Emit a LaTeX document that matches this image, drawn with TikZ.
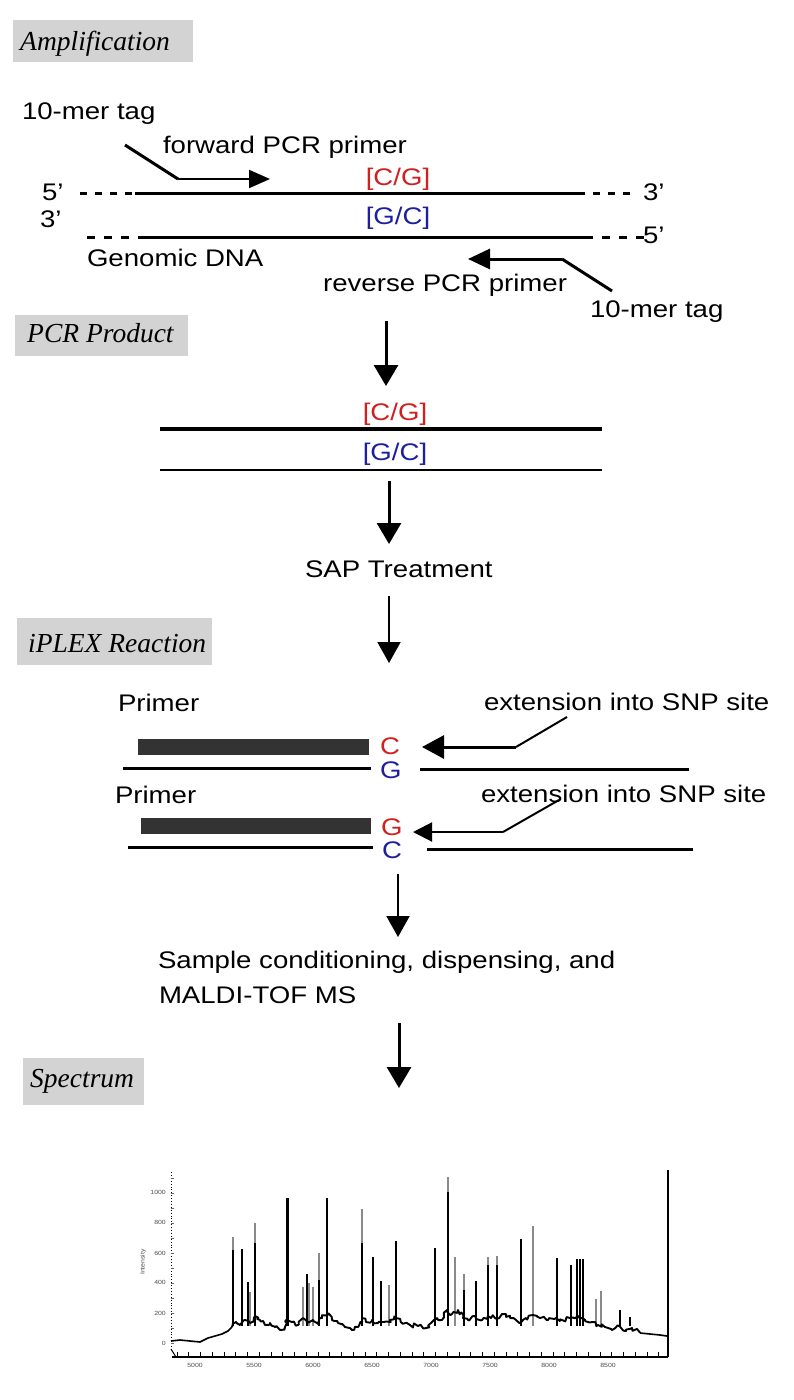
\documentclass[tikz,border=0pt]{standalone}
\usepackage{fontspec}
\setmainfont{Liberation Sans}[FakeStretch=1.15]
\newfontfamily\titlefont{Liberation Serif}
\usetikzlibrary{arrows.meta,decorations.pathmorphing}
\definecolor{snpred}{HTML}{D02020}
\definecolor{snpblue}{HTML}{1E1EA0}
\definecolor{boxgray}{HTML}{D3D3D3}
\definecolor{bargray}{HTML}{333333}
\definecolor{peakgray}{HTML}{8A8A8A}
\tikzset{
  lbl/.style={font=\fontsize{24}{28}\selectfont, inner sep=0pt, outer sep=0pt},
  tiny/.style={font=\fontsize{6}{7}\selectfont, inner sep=0pt, text=black!70},
  ttl/.style={font=\titlefont\itshape\fontsize{27.5}{30}\selectfont, inner sep=0pt},
  tbox/.style={fill=boxgray, draw=none, inner sep=0pt, outer sep=0pt},
  strand/.style={line width=3pt},
  thinstrand/.style={line width=2.2pt},
  dashA/.style={line width=3pt, dash pattern=on 7pt off 8pt},
  dashB/.style={line width=3pt, dash pattern=on 8pt off 9pt},
  flowthick/.style={line width=3pt, -{Triangle[length=21pt,width=24pt]}},
  flowthin/.style={line width=2pt, -{Triangle[length=21pt,width=23pt]}},
  pk/.style={line width=2pt, black},
  pg/.style={line width=1.2pt, peakgray},
  noisy/.style={line width=1.9pt, line join=round,
    decorate, decoration={random steps, segment length=2.5pt, amplitude=2.2pt}},
}
\begin{document}
\begin{tikzpicture}[x=1pt,y=-1pt]
\pgfmathsetseed{4242}
\useasboundingbox (0,0) rectangle (794,1400);

% ---------------- titles
\node[tbox, anchor=north west, minimum width=180pt, minimum height=42pt] (ampbox) at (13,20) {};
\node[ttl, anchor=base west] (amp) at (20,50) {Amplification};
\node[tbox, anchor=north west, minimum width=173pt, minimum height=41pt] (pcrbox) at (15,315) {};
\node[ttl, anchor=base west] (pcr) at (27,342) {PCR Product};
\node[tbox, anchor=north west, minimum width=195pt, minimum height=47pt] (iplexbox) at (17,618) {};
\node[ttl, anchor=base west] (iplex) at (28,652) {iPLEX Reaction};
\node[tbox, anchor=north west, minimum width=121pt, minimum height=47pt] (specbox) at (23,1058) {};
\node[ttl, anchor=base west] (spec) at (30,1087) {Spectrum};

% ---------------- amplification
\node[lbl, anchor=base west] (tagA) at (22,119) {10-mer tag};
\node[lbl, anchor=base west] (fwd) at (163,153) {forward PCR primer};
\coordinate (fwA) at (125,145);
\coordinate (fwB) at (178,179);
\coordinate (fwT) at (270,179);
\draw[line width=3pt] (fwA) -- (fwB);
\draw[line width=2pt, -{Triangle[length=21pt,width=18pt]}] (fwB) -- (fwT);

\node[lbl, anchor=base west] (p5a) at (42,200) {5’};
\node[lbl, anchor=base west] (p3a) at (643,200) {3’};
\node[lbl, anchor=base west] (p3b) at (40,227) {3’};
\node[lbl, anchor=base west] (p5b) at (643,243) {5’};

\coordinate (ta1) at (80,193);  \coordinate (ta2) at (135,193);
\coordinate (ta3) at (578,193); \coordinate (ta4) at (637,193);
\draw[dashA] (ta1) -- (ta2);
\draw[strand] (ta2) -- (ta3);
\draw[dashA] (ta3) -- (ta4);
\coordinate (ba1) at (87,237);  \coordinate (ba2) at (141,237);
\coordinate (ba3) at (585,237); \coordinate (ba4) at (645,237);
\draw[dashB] (ba1) -- (ba2);
\draw[strand] (ba2) -- (ba3);
\draw[dashB] (ba3) -- (ba4);

\node[lbl, anchor=base, text=snpred] (cgA) at (398,185) {[C/G]};
\node[lbl, anchor=base, text=snpblue] (gcA) at (398,224) {[G/C]};
\node[lbl, anchor=base west] (genomic) at (87,266) {Genomic DNA};

\coordinate (rvA) at (612,291);
\coordinate (rvB) at (562,259);
\coordinate (rvT) at (468,259);
\draw[line width=3pt] (rvA) -- (rvB);
\draw[line width=3pt, -{Triangle[length=22pt,width=20pt]}] (rvB) -- (rvT);
\node[lbl, anchor=base east] (rev) at (567,291) {reverse PCR primer};
\node[lbl, anchor=base west] (tagB) at (590,317) {10-mer tag};

% ---------------- PCR product
\coordinate (a1s) at (386,321); \coordinate (a1e) at (386,386);
\draw[flowthick] (a1s) -- (a1e);
\node[lbl, anchor=base, text=snpred] (cgB) at (395,420) {[C/G]};
\coordinate (pl1a) at (160,429); \coordinate (pl1b) at (602,429);
\draw[line width=3.4pt] (pl1a) -- (pl1b);
\node[lbl, anchor=base, text=snpblue] (gcB) at (395,460) {[G/C]};
\coordinate (pl2a) at (160,470); \coordinate (pl2b) at (602,470);
\draw[thinstrand] (pl2a) -- (pl2b);

\coordinate (a2s) at (389,481); \coordinate (a2e) at (389,544);
\draw[flowthick] (a2s) -- (a2e);
\node[lbl, anchor=base west] (sap) at (305,577) {SAP Treatment};
\coordinate (a3s) at (389,596); \coordinate (a3e) at (389,663);
\draw[flowthin] (a3s) -- (a3e);

% ---------------- iPLEX
\node[lbl, anchor=base west] (prim1) at (118,711) {Primer};
\node[lbl, anchor=base west] (ext1) at (484,710) {extension into SNP site};
\fill[bargray] (138,739) rectangle (369,755);
\node[lbl, anchor=base west, text=snpred] (c1) at (380,754) {C};
\node[lbl, anchor=base west, text=snpblue] (g1) at (380,778) {G};
\coordinate (la1) at (123,768); \coordinate (la2) at (371,768);
\coordinate (la3) at (420,769); \coordinate (la4) at (689,769);
\draw[strand] (la1) -- (la2);
\draw[strand] (la3) -- (la4);
\coordinate (e1a) at (567,717); \coordinate (e1b) at (516,747); \coordinate (e1t) at (422,747);
\draw[line width=2pt] (e1a) -- (e1b);
\draw[line width=3pt, -{Triangle[length=22pt,width=23pt]}] (e1b) -- (e1t);

\node[lbl, anchor=base west] (prim2) at (115,803) {Primer};
\node[lbl, anchor=base west] (ext2) at (481,802) {extension into SNP site};
\fill[bargray] (141,818) rectangle (371,834);
\node[lbl, anchor=base west, text=snpred] (g2) at (381,835) {G};
\node[lbl, anchor=base west, text=snpblue] (c2) at (382,858) {C};
\coordinate (lb1) at (128,847); \coordinate (lb2) at (373,847);
\coordinate (lb3) at (427,849); \coordinate (lb4) at (693,849);
\draw[strand] (lb1) -- (lb2);
\draw[strand] (lb3) -- (lb4);
\coordinate (e2a) at (559,800); \coordinate (e2b) at (503,832); \coordinate (e2t) at (413,832);
\draw[line width=2pt] (e2a) -- (e2b);
\draw[line width=2pt, -{Triangle[length=19pt,width=19pt]}] (e2b) -- (e2t);

% ---------------- MALDI
\coordinate (a4s) at (398,874); \coordinate (a4e) at (398,937);
\draw[flowthin] (a4s) -- (a4e);
\node[lbl, anchor=base west] (samp) at (158,968) {Sample conditioning, dispensing, and};
\node[lbl, anchor=base west] (maldi) at (159,1003) {MALDI-TOF MS};
\coordinate (a5s) at (399,1023); \coordinate (a5e) at (399,1088);
\draw[flowthick] (a5s) -- (a5e);

% ---------------- spectrum plot
% y axis
\draw[line width=0.9pt, dotted] (171,1172) -- (171,1350);
\foreach \yy in {1178,1193,...,1343} \draw[line width=0.6pt, black!60] (171,\yy) -- (174,\yy);
\foreach \yy/\tt in {1343/0,1313/200,1282/400,1253/600,1222/800,1192/1000}
  \node[tiny, anchor=east] at (166,\yy) {\tt};
\node[tiny, rotate=90] (ylab) at (143,1262) {Intensity};
% x axis
\draw[line width=2pt] (172,1357) -- (668,1357);
\draw[line width=2pt] (668,1170) -- (668,1357);
\draw[line width=1pt] (171,1349) -- (176,1357);
\foreach \i in {0,...,41} \draw[line width=0.9pt] (177+\i*11.75,1357) -- ++(0,-5);
\foreach \xx/\tt in {195/5000,254/5500,313/6000,372/6500,431/7000,490/7500,549/8000,608/8500}
  \node[tiny, anchor=north] at (\xx,1363) {\tt};

% peaks
\foreach \xx/\tp/\st in {
  233/1237/pg, 242/1249/pk, 248/1282/pk, 250/1292/pg, 255/1223/pg,
  287/1198/pk, 303/1287/pg, 307/1274/pk, 309/1283/pg, 313/1287/pg,
  319/1253/pg, 327/1198/pk, 362/1209/pg, 373/1257/pk, 381/1281/pk,
  389/1285/pg, 396/1241/pk, 435/1248/pk, 448/1177/pg, 455/1257/pg,
  464/1274/pg, 476/1281/pk, 488/1257/pg, 497/1256/pg, 521/1239/pk,
  533/1226/pg, 557/1258/pk, 571/1265/pk, 577/1259/pk, 580/1259/pk,
  583/1259/pk, 596/1299/pg, 601/1291/pg, 620/1310/pk, 630/1317/pk}
  \draw[\st] (\xx,1326) -- (\xx,\tp);
\foreach \xx/\tp in {233/1250, 255/1243, 319/1280, 362/1243, 448/1192,
  464/1290, 488/1265, 497/1265}
  \draw[pk] (\xx,1326) -- (\xx,\tp);
\draw[line width=3pt] (287,1326) -- (287,1198);
\draw[line width=2.6pt] (448,1326) -- (448,1192);
% baseline (left smooth part, then noisy part)
\draw[line width=1.6pt, line join=round] (171,1341) -- (180,1340) -- (190,1341) -- (200,1342)
  -- (208,1338) -- (215,1336) -- (222,1334) -- (228,1331) -- (232,1327);
\draw[noisy] (232,1327) -- (236,1322)
  -- (240,1325) -- (245,1320) -- (250,1323) -- (255,1316) -- (260,1320) -- (265,1325)
  -- (270,1323) -- (275,1327) -- (280,1330) -- (285,1327) -- (288,1318) -- (292,1322)
  -- (298,1325) -- (303,1318) -- (308,1322) -- (313,1320) -- (318,1324) -- (322,1318)
  -- (327,1314) -- (332,1320) -- (338,1323) -- (345,1327) -- (352,1330) -- (358,1327)
  -- (362,1318) -- (366,1322) -- (372,1320) -- (378,1323) -- (384,1322) -- (390,1320)
  -- (396,1318) -- (402,1323) -- (410,1325) -- (418,1326) -- (426,1328) -- (432,1322)
  -- (437,1318) -- (442,1320) -- (447,1310) -- (452,1314) -- (458,1310) -- (463,1318)
  -- (468,1320) -- (475,1316) -- (482,1320) -- (488,1316) -- (495,1318) -- (502,1314)
  -- (510,1318) -- (516,1320) -- (521,1322) -- (526,1318) -- (533,1315) -- (540,1318)
  -- (548,1320) -- (556,1318) -- (562,1320) -- (570,1318) -- (578,1316) -- (585,1320)
  -- (592,1322) -- (598,1325) -- (605,1327) -- (612,1330) -- (620,1326) -- (626,1331)
  -- (632,1328) -- (640,1333);
\draw[line width=1.6pt, line join=round] (640,1333) -- (650,1334) -- (660,1335) -- (667,1336);
\end{tikzpicture}
\end{document}
